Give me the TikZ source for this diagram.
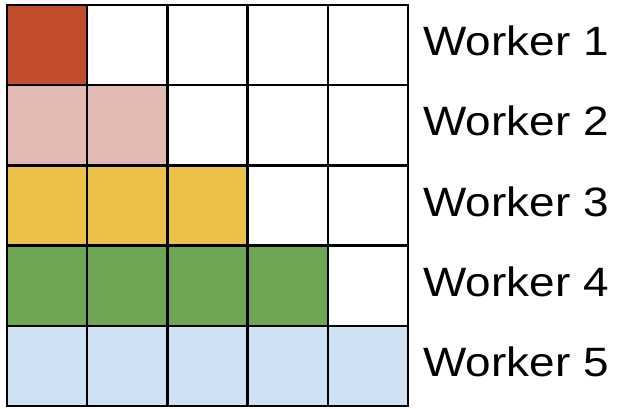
\documentclass[tikz,border=0pt]{standalone}
\usepackage{fontspec}
\setmainfont{Liberation Sans}
\definecolor{workerred}{HTML}{C24D2D}
\definecolor{workerpink}{HTML}{E3BAB3}
\definecolor{workeryellow}{HTML}{EBC14A}
\definecolor{workergreen}{HTML}{6EA754}
\definecolor{workerblue}{HTML}{CFE2F3}
\begin{document}
\begin{tikzpicture}[x=1pt, y=1pt,
	gridline/.style={draw=black, line width=2.5pt, line cap=rect},
	workerlabel/.style={anchor=base west, inner sep=0pt, font=\fontsize{41}{43}\selectfont}]
	\useasboundingbox (-7,5) rectangle (617,-403);
	\def\s{80.2}
	% coloured cells, one row per worker
	\foreach \r/\col in {1/workerred, 2/workerpink, 3/workeryellow, 4/workergreen, 5/workerblue} {
		\foreach \k in {1,...,\r}
			\fill[\col] ({(\k-1)*\s},{-(\r-1)*\s}) rectangle ++(\s,-\s);
		\node[workerlabel] (w\r) at (416,{-(\r-0.5)*\s-10.5}) {\scalebox{1.12}[1]{Worker \r}};
	}
	% grid lines
	\foreach \i in {0,...,5} {
		\draw[gridline] ({\i*\s},0) -- ({\i*\s},{-5*\s});
		\draw[gridline] (0,{-\i*\s}) -- ({5*\s},{-\i*\s});
	}
\end{tikzpicture}
\end{document}
